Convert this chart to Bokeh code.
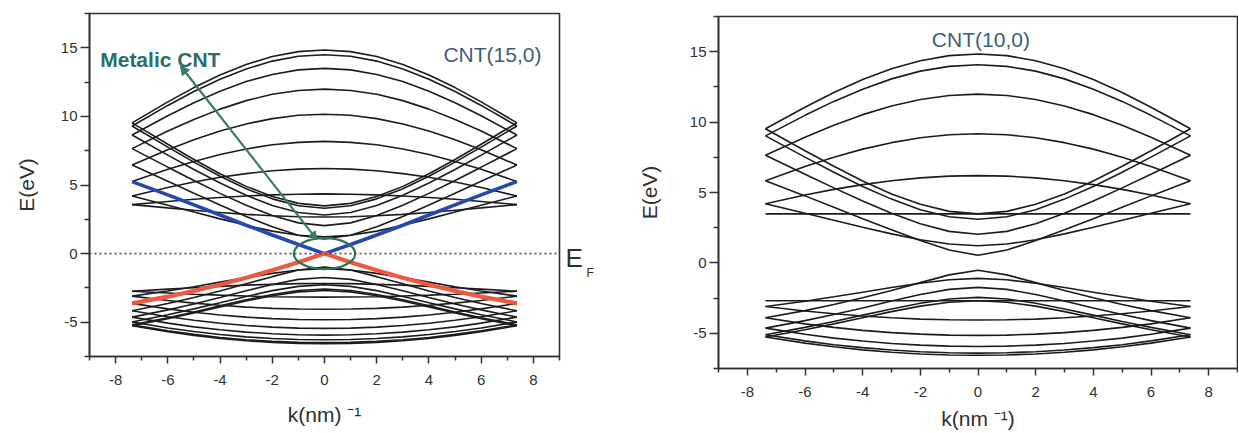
from bokeh.plotting import figure
from bokeh.layouts import row, column
from bokeh.models import (Range1d, FixedTicker, Span, Label, Arrow, NormalHead,
                          ColumnDataSource, LinearAxis, CustomJSTickFormatter)
from bokeh.embed import file_html
from bokeh.resources import INLINE

# ---------------- data ----------------
# k values (nm^-1) for the right half of the zone; bands are symmetric in k
K_HALF = [0, 1, 2, 3, 4, 5, 6, 7.37]

# CNT(15,0): conduction bands E(k) (eV) at K_HALF
CNT15_COND = [
    [14.84, 14.72, 14.36, 13.79, 13.02, 12.10, 11.06, 9.53],
    [14.49, 14.38, 14.03, 13.46, 12.71, 11.81, 10.80, 9.30],
    [13.50, 13.39, 13.06, 12.54, 11.84, 11.00, 10.05, 8.64],
    [11.99, 11.89, 11.61, 11.15, 10.53, 9.78, 8.93, 7.65],
    [10.16, 10.08, 9.84, 9.45, 8.93, 8.29, 7.57, 6.46],
    [8.18, 8.11, 7.93, 7.63, 7.22, 6.72, 6.14, 5.25],
    [6.20, 6.16, 6.04, 5.83, 5.56, 5.22, 4.82, 4.20],
    [4.35, 4.33, 4.28, 4.20, 4.09, 3.96, 3.80, 3.57],
    [2.67, 2.69, 2.76, 2.86, 3.00, 3.16, 3.33, 3.57],
    [1.22, 1.34, 1.64, 2.06, 2.53, 3.03, 3.53, 4.20],
    [1.07, 1.34, 1.95, 2.71, 3.54, 4.40, 5.28, 6.46],
    [2.04, 2.24, 2.78, 3.52, 4.39, 5.33, 6.30, 7.65],
    [2.81, 2.99, 3.50, 4.25, 5.14, 6.13, 7.18, 8.64],
    [3.31, 3.49, 3.99, 4.73, 5.64, 6.67, 7.76, 9.30],
    [3.48, 3.66, 4.16, 4.90, 5.82, 6.86, 7.97, 9.53],
]
# CNT(15,0): valence bands
CNT15_VAL = [
    [-6.56, -6.54, -6.47, -6.35, -6.18, -5.96, -5.70, -5.26],
    [-6.49, -6.47, -6.40, -6.28, -6.11, -5.89, -5.63, -5.19],
    [-6.28, -6.26, -6.19, -6.07, -5.90, -5.68, -5.42, -4.98],
    [-5.94, -5.91, -5.84, -5.72, -5.55, -5.34, -5.07, -4.63],
    [-5.45, -5.43, -5.36, -5.24, -5.08, -4.86, -4.60, -4.17],
    [-4.82, -4.80, -4.74, -4.63, -4.47, -4.28, -4.03, -3.63],
    [-4.06, -4.04, -3.99, -3.90, -3.77, -3.61, -3.42, -3.10],
    [-3.17, -3.16, -3.14, -3.09, -3.03, -2.96, -2.87, -2.74],
    [-2.18, -2.19, -2.24, -2.30, -2.39, -2.49, -2.59, -2.74],
    [-1.10, -1.20, -1.44, -1.75, -2.08, -2.41, -2.72, -3.10],
    [-0.98, -1.20, -1.68, -2.20, -2.72, -3.20, -3.64, -4.17],
    [-1.74, -1.88, -2.25, -2.71, -3.20, -3.67, -4.10, -4.63],
    [-2.27, -2.39, -2.70, -3.12, -3.58, -4.03, -4.46, -4.98],
    [-2.58, -2.69, -2.98, -3.37, -3.81, -4.25, -4.67, -5.19],
    [-2.69, -2.79, -3.07, -3.46, -3.89, -4.33, -4.75, -5.26],
]
# CNT(15,0): the two metallic bands crossing at E_F
CNT15_METAL_COND = [0.00, 0.66, 1.36, 2.07, 2.81, 3.55, 4.28, 5.25]
CNT15_METAL_VAL = [0.00, -0.63, -1.22, -1.76, -2.27, -2.72, -3.14, -3.63]

# CNT(10,0): conduction bands
CNT10_COND = [
    [14.84, 14.72, 14.36, 13.79, 13.02, 12.10, 11.06, 9.53],
    [14.07, 13.96, 13.62, 13.07, 12.34, 11.47, 10.48, 9.02],
    [11.99, 11.89, 11.61, 11.15, 10.53, 9.78, 8.93, 7.65],
    [9.17, 9.10, 8.89, 8.54, 8.08, 7.51, 6.85, 5.84],
    [6.20, 6.16, 6.04, 5.83, 5.56, 5.22, 4.82, 4.20],
    [3.48, 3.48, 3.48, 3.48, 3.48, 3.48, 3.48, 3.48],
    [1.22, 1.34, 1.64, 2.06, 2.53, 3.03, 3.53, 4.20],
    [0.54, 0.91, 1.59, 2.35, 3.14, 3.95, 4.76, 5.84],
    [2.04, 2.24, 2.78, 3.52, 4.39, 5.33, 6.30, 7.65],
    [3.10, 3.28, 3.78, 4.53, 5.43, 6.44, 7.51, 9.02],
    [3.48, 3.66, 4.16, 4.90, 5.82, 6.86, 7.97, 9.53],
]
# CNT(10,0): valence bands
CNT10_VAL = [
    [-6.56, -6.54, -6.47, -6.35, -6.18, -5.96, -5.70, -5.26],
    [-6.41, -6.38, -6.31, -6.19, -6.02, -5.81, -5.54, -5.10],
    [-5.94, -5.91, -5.84, -5.72, -5.55, -5.34, -5.07, -4.63],
    [-5.15, -5.13, -5.06, -4.95, -4.79, -4.58, -4.33, -3.90],
    [-4.06, -4.04, -3.99, -3.90, -3.77, -3.61, -3.42, -3.10],
    [-2.69, -2.69, -2.69, -2.69, -2.69, -2.69, -2.69, -2.69],
    [-1.10, -1.20, -1.44, -1.75, -2.08, -2.41, -2.72, -3.10],
    [-0.52, -0.85, -1.40, -1.96, -2.48, -2.96, -3.39, -3.90],
    [-1.74, -1.88, -2.25, -2.71, -3.20, -3.67, -4.10, -4.63],
    [-2.45, -2.56, -2.86, -3.27, -3.71, -4.16, -4.58, -5.10],
    [-2.69, -2.79, -3.07, -3.46, -3.89, -4.33, -4.75, -5.26],
]

X_TICKS = [-8, -6, -4, -2, 0, 2, 4, 6, 8]
X_MINOR = [-9, -7, -5, -3, -1, 1, 3, 5, 7, 9]
Y_TICKS = [-5, 0, 5, 10, 15]
Y_MINOR = [-7.5, -2.5, 2.5, 7.5, 12.5, 17.5]
X_RANGE = (-9, 9)
Y_RANGE = (-7.5, 17.5)

FONT = "Liberation Sans"
INK = "#303030"
BAND = "#1c1c1c"
FIG_H = 432


def full_k():
    return [-k for k in reversed(K_HALF[1:])] + list(K_HALF)


def full_band(half):
    return list(reversed(half[1:])) + list(half)


def make_fig(width, mbl, mbr, mbt, mbb, xlabel, x_lab_standoff, x_tick_standoff,
             y_lab_standoff):
    p = figure(width=width, height=FIG_H,
               x_range=Range1d(*X_RANGE), y_range=Range1d(*Y_RANGE),
               output_backend="svg", toolbar_location=None,
               min_border_left=mbl, min_border_right=mbr,
               min_border_top=mbt, min_border_bottom=mbb)
    p.xgrid.visible = False
    p.ygrid.visible = False
    p.background_fill_color = "white"
    p.border_fill_color = "white"
    p.outline_line_color = INK
    p.outline_line_width = 1.6
    p.outline_line_alpha = 1.0

    xa = p.xaxis[0]
    xa.ticker = FixedTicker(ticks=X_TICKS, minor_ticks=X_MINOR)
    xa.major_label_overrides = {t: str(t) for t in X_TICKS}
    xa.axis_label = xlabel
    xa.axis_label_text_font = FONT
    xa.axis_label_text_font_size = "21px"
    xa.axis_label_text_font_style = "normal"
    xa.axis_label_text_color = INK
    xa.axis_label_standoff = x_lab_standoff
    xa.major_label_text_font = FONT
    xa.major_label_text_font_size = "15px"
    xa.major_label_text_color = INK
    xa.major_label_standoff = x_tick_standoff
    xa.major_tick_out = 7
    xa.major_tick_in = 0
    xa.minor_tick_out = 4
    xa.minor_tick_in = 0
    xa.axis_line_color = INK
    xa.axis_line_width = 1.6
    xa.major_tick_line_color = INK
    xa.major_tick_line_width = 1.5
    xa.minor_tick_line_color = INK
    xa.minor_tick_line_width = 1.5

    ya = p.yaxis[0]
    ya.ticker = FixedTicker(ticks=Y_TICKS, minor_ticks=Y_MINOR)
    ya.major_label_overrides = {t: str(t) for t in Y_TICKS}
    ya.axis_label = "E(eV)"
    ya.axis_label_text_font = FONT
    ya.axis_label_text_font_size = "21px"
    ya.axis_label_text_font_style = "normal"
    ya.axis_label_text_color = INK
    ya.axis_label_standoff = y_lab_standoff
    ya.major_label_text_font = FONT
    ya.major_label_text_font_size = "15px"
    ya.major_label_text_color = INK
    ya.major_label_standoff = 3
    ya.major_tick_out = 9
    ya.major_tick_in = 0
    ya.minor_tick_out = 5
    ya.minor_tick_in = 0
    ya.axis_line_color = INK
    ya.axis_line_width = 1.6
    ya.major_tick_line_color = INK
    ya.major_tick_line_width = 1.5
    ya.minor_tick_line_color = INK
    ya.minor_tick_line_width = 1.5
    return p


def draw_bands(p, bands):
    kk = full_k()
    src = ColumnDataSource(data=dict(xs=[kk for _ in bands],
                                     ys=[full_band(b) for b in bands]))
    p.multi_line(xs="xs", ys="ys", source=src, line_color=BAND, line_width=1.6)


def text_axis(text, at, size, standoff):
    ax = LinearAxis(ticker=FixedTicker(ticks=[at], minor_ticks=[]),
                    formatter=CustomJSTickFormatter(code="return '%s';" % text),
                    axis_line_color=None, major_tick_line_color=None,
                    minor_tick_line_color=None, major_tick_out=0, major_tick_in=0,
                    minor_tick_out=0, minor_tick_in=0,
                    major_label_standoff=standoff,
                    major_label_text_font=FONT, major_label_text_font_size=size,
                    major_label_text_color=INK)
    return ax


# ---------------- left panel: CNT(15,0) ----------------
p1 = make_fig(620, 89, 61, 13, 76, "k(nm) \u207b\u00b9", 15, 11, 20)
p1.add_layout(Span(location=0, dimension="width", line_color="#555555",
                   line_dash="2 3", line_width=1.6))
draw_bands(p1, CNT15_COND)
draw_bands(p1, CNT15_VAL)
kk = full_k()
p1.line(kk, full_band(CNT15_METAL_COND), line_color="#2448b4", line_width=3.6)
p1.line(kk, full_band(CNT15_METAL_VAL), line_color="#ee5a40", line_width=4.2)

GREEN = "#2f6e58"
p1.ellipse(x=[0.0], y=[0.0], width=[2.35], height=[2.26],
           fill_alpha=0, line_color=GREEN, line_width=2.2)
p1.add_layout(Arrow(x_start=-0.29, y_start=1.02, x_end=-5.52, y_end=13.69,
                    line_color="#3a7a64", line_width=2.2,
                    start=NormalHead(size=8, fill_color="#3a7a64", line_color="#3a7a64"),
                    end=NormalHead(size=9, fill_color="#3a7a64", line_color="#3a7a64")))
p1.add_layout(Label(x=-8.59, y=14.13, text="Metalic CNT", text_font=FONT,
                    text_font_size="21px", text_font_style="bold",
                    text_color="#2e6c6a", text_align="left", text_baseline="middle"))
p1.add_layout(Label(x=6.43, y=14.49, text="CNT(15,0)", text_font=FONT,
                    text_font_size="21px", text_color="#3e5e76",
                    text_align="center", text_baseline="middle"))
# Fermi level label E_F drawn to the right of the frame
p1.add_layout(text_axis("E", -0.3, "26px", 6), "right")
p1.add_layout(text_axis("F", -1.42, "12px", 1), "right")

# ---------------- right panel: CNT(10,0) ----------------
p2 = make_fig(618, 98, 1, 16, 63, "k(nm \u207b\u00b9)", 7, 11, 26)
draw_bands(p2, CNT10_COND)
draw_bands(p2, CNT10_VAL)
p2.add_layout(Label(x=0.1, y=15.85, text="CNT(10,0)", text_font=FONT,
                    text_font_size="21px", text_color="#3e5e76",
                    text_align="center", text_baseline="middle"))

# each panel in its own column so the two frames are laid out independently
layout = row(column(p1), column(p2))
open("out.html", "w").write(file_html(layout, INLINE))
